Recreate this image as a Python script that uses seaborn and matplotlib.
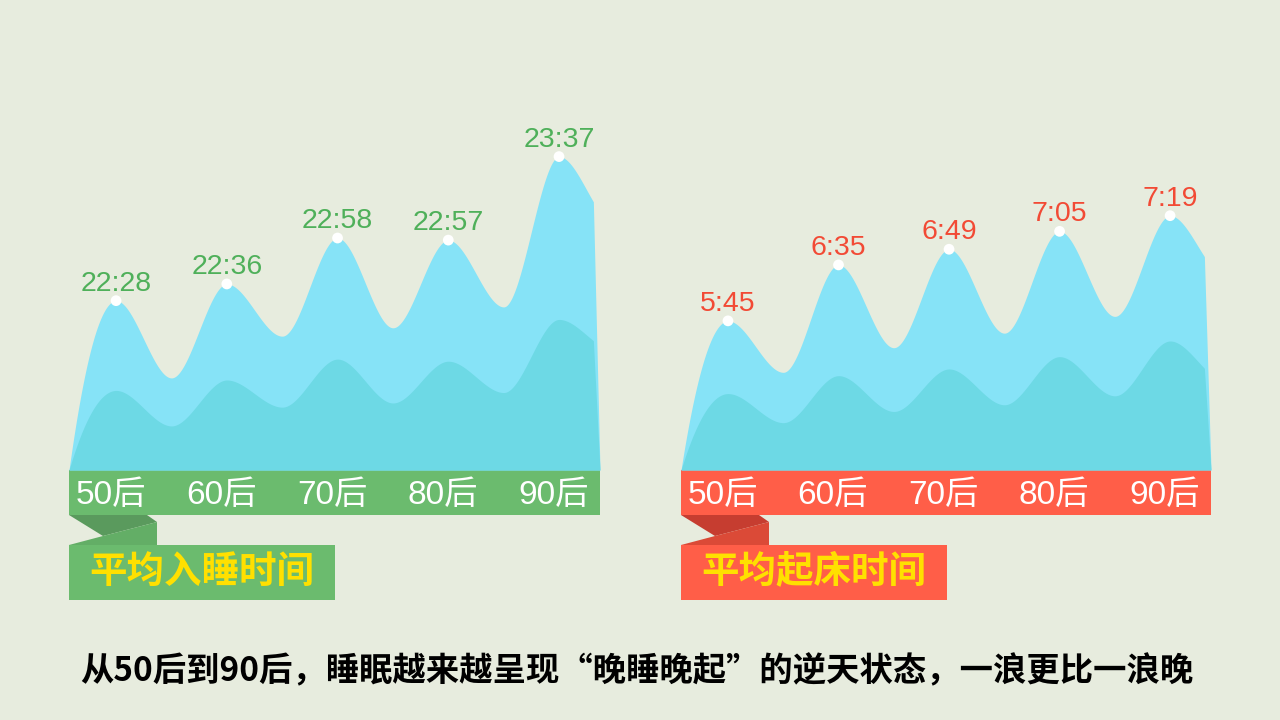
import numpy as np
import pandas as pd
import matplotlib
matplotlib.use("Agg")
import matplotlib.pyplot as plt
import matplotlib.transforms as mtransforms
from matplotlib.patches import Polygon
import seaborn as sns

# ---------------- data ----------------
generations = ["50后", "60后", "70后", "80后", "90后"]
sleep_labels = ["22:28", "22:36", "22:58", "22:57", "23:37"]
wake_labels = ["5:45", "6:35", "6:49", "7:05", "7:19"]

# decorative wave shape (minutes since midnight)
sleep_valleys = [1311, 1331, 1335, 1345, 1385]
sleep_inner_peaks = [1305, 1310, 1320, 1319, 1339]
sleep_inner_valleys = [1288, 1297, 1299, 1304, 1324]
wake_valleys = [299, 321, 334, 349, 385]
wake_inner_peaks = [280, 296, 302, 313, 327]
wake_inner_valleys = [254, 264, 270, 278, 291]

titles = ["平均入睡时间", "平均起床时间"]
caption = "从50后到90后，睡眠越来越呈现“晚睡晚起”的逆天状态，一浪更比一浪晚"

# ---------------- style ----------------
BG = "#E7ECDE"
OUTER = "#86E3F7"
INNER = "#6DD9E5"
GREEN = "#6BBB6E"; GREEN_D = "#5A9A5D"; GREEN_M = "#63AE66"; GREEN_T = "#4FB05A"
RED = "#FF5E48"; RED_D = "#C63D30"; RED_M = "#DB4A37"; RED_T = "#F24A35"
YELLOW = "#FFE000"

sns.set_theme(style="white")
plt.rcParams["font.family"] = ["Liberation Sans", "Noto Sans CJK SC", "DejaVu Sans"]


def to_min(s):
    h, m = s.split(":")
    return int(h) * 60 + int(m)


def pchip(x, y, xe):
    x = np.asarray(x, float); y = np.asarray(y, float)
    h = np.diff(x); d = np.diff(y) / h
    n = len(x); m = np.zeros(n)
    for k in range(1, n - 1):
        if d[k - 1] * d[k] > 0:
            w1 = 2 * h[k] + h[k - 1]; w2 = h[k] + 2 * h[k - 1]
            m[k] = (w1 + w2) / (w1 / d[k - 1] + w2 / d[k])
    m[0] = 2 * d[0]
    idx = np.clip(np.searchsorted(x, xe) - 1, 0, n - 2)
    t = (xe - x[idx]) / h[idx]
    h00 = 2 * t**3 - 3 * t**2 + 1
    h10 = t**3 - 2 * t**2 + t
    h01 = -2 * t**3 + 3 * t**2
    h11 = t**3 - t**2
    return h00 * y[idx] + h10 * h[idx] * m[idx] + h01 * y[idx + 1] + h11 * h[idx] * m[idx + 1]


XL, XR = -0.425, 4.37


def wave(base, peaks, valleys):
    kx = [XL]; ky = [base]
    for i, (p, v) in enumerate(zip(peaks, valleys)):
        kx += [i, i + 0.5]; ky += [p, v]
    xs = np.linspace(XL, XR - 0.06, 700)
    ys = pchip(kx, ky, xs)
    xs = np.append(xs, XR); ys = np.append(ys, base)
    return xs, ys


W, H = 1280, 720
fig = plt.figure(figsize=(12.8, 7.2), dpi=100, facecolor=BG)
pix = mtransforms.Affine2D().scale(1 / W, -1 / H).translate(0, 1) + fig.transFigure

panels = [
    dict(left=69, width=531, ylim=(1266.9, 1444.1), labels=sleep_labels,
         valleys=sleep_valleys, ip=sleep_inner_peaks, iv=sleep_inner_valleys,
         bar=GREEN, dark=GREEN_D, mid=GREEN_M, tcol=GREEN_T, title=titles[0]),
    dict(left=681, width=530, ylim=(211.7, 542.4), labels=wake_labels,
         valleys=wake_valleys, ip=wake_inner_peaks, iv=wake_inner_valleys,
         bar=RED, dark=RED_D, mid=RED_M, tcol=RED_T, title=titles[1]),
]

for p in panels:
    L, Wd = p["left"], p["width"]
    ax = fig.add_axes([L / W, (H - 470) / H, Wd / W, 370 / H])
    ax.set_facecolor("none")
    ax.set_xlim(XL, XR)
    ax.set_ylim(*p["ylim"])
    ax.axis("off")
    base = p["ylim"][0]
    vals = [to_min(s) for s in p["labels"]]
    df = pd.DataFrame({"gen": generations, "x": np.arange(5), "v": vals})

    xs, ys = wave(base, vals, p["valleys"])
    ax.fill_between(xs, base, ys, color=OUTER, lw=0, zorder=1)
    xs2, ys2 = wave(base, p["ip"], p["iv"])
    ax.fill_between(xs2, base, ys2, color=INNER, lw=0, zorder=2)

    sns.scatterplot(data=df, x="x", y="v", color="white", s=60, edgecolor="none",
                    ax=ax, zorder=5, clip_on=False, legend=False)
    for _, r in df.iterrows():
        ax.annotate(p["labels"][int(r.x)], (r.x, r.v),
                    xytext=(0, 10), textcoords="offset pixels", ha="center",
                    va="baseline", fontsize=20.5, color=p["tcol"],
                    family=["Liberation Sans"], annotation_clip=False)

    # bar under the waves, folded ribbon and title box (decoration, behind axes)
    R = L + Wd
    deco = dict(closed=True, transform=pix, lw=0, zorder=-1)
    fig.add_artist(Polygon([(L, 470), (R, 470), (R, 515), (L, 515)],
                           facecolor=p["bar"], **deco))
    fig.add_artist(Polygon([(L, 515), (L + 78, 515), (L + 88, 522), (L + 34, 536)],
                           facecolor=p["dark"], **deco))
    fig.add_artist(Polygon([(L, 545), (L + 34, 536), (L + 88, 522), (L + 88, 545)],
                           facecolor=p["mid"], **deco))
    fig.add_artist(Polygon([(L, 545), (L + 266, 545), (L + 266, 600), (L, 600)],
                           facecolor=p["bar"], **deco))

    btr = mtransforms.blended_transform_factory(ax.transData, pix)
    for i, g in enumerate(generations):
        ax.text(i - 0.05, 504, g, transform=btr, ha="center", va="baseline",
                fontsize=24, color="white", clip_on=False,
                family=["Liberation Sans", "Noto Sans CJK SC"])

    fig.text((L + 133) / W, 1 - 571 / H, p["title"], ha="center", va="center",
             fontsize=27, color=YELLOW, family=["Noto Sans CJK SC"], weight="bold")

fig.text(637 / W, 1 - 672 / H, caption, ha="center", va="center", fontsize=24,
         color="black", family=["Noto Sans CJK SC", "DejaVu Sans"], weight="bold")

fig.savefig("out.png", dpi=100, facecolor=BG)
